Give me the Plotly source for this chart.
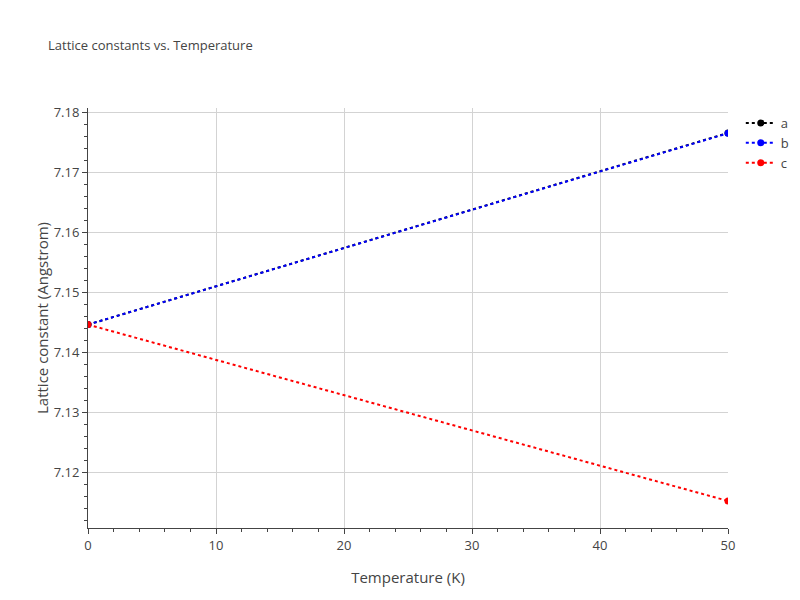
import plotly.graph_objects as go

temps = [0, 50]
a_vals = [7.14465, 7.17655]
b_vals = [7.14465, 7.17650]
c_vals = [7.14465, 7.11530]

fig = go.Figure()
for name, vals, col in [("a", a_vals, "black"), ("b", b_vals, "blue"), ("c", c_vals, "red")]:
    fig.add_trace(go.Scatter(x=temps, y=vals, name=name, mode="lines+markers",
                             line=dict(color=col, dash="dot", width=2), marker=dict(color=col, size=7)))

ax = dict(showline=True, linecolor="#444", ticks="outside", tickcolor="#444", showgrid=True,
          gridcolor="lightgray", zeroline=False, tickfont=dict(size=13, color="#444"), automargin=False,
          minor=dict(ticks="outside", ticklen=3, tickcolor="#444", showgrid=False))
fig.update_layout(
    template="none", width=800, height=600, plot_bgcolor="white", paper_bgcolor="white",
    title=dict(text="Lattice constants vs. Temperature", x=0.05, xref="container", y=0.945,
               font=dict(size=13, color="#444")),
    xaxis=dict(ax, title=dict(text="Temperature (K)", font=dict(size=15, color="#444")), range=[0, 50], dtick=10),
    yaxis=dict(ax, title=dict(text="Lattice constant (Angstrom)", font=dict(size=15, color="#444")),
               range=[7.1108, 7.1807], dtick=0.01, tickformat=".2f"),
    legend=dict(x=1.02, y=1, font=dict(size=13, color="#444")),
    margin=dict(l=80, r=80, t=100, b=80, pad=0),
)
fig.write_html("out.html")
